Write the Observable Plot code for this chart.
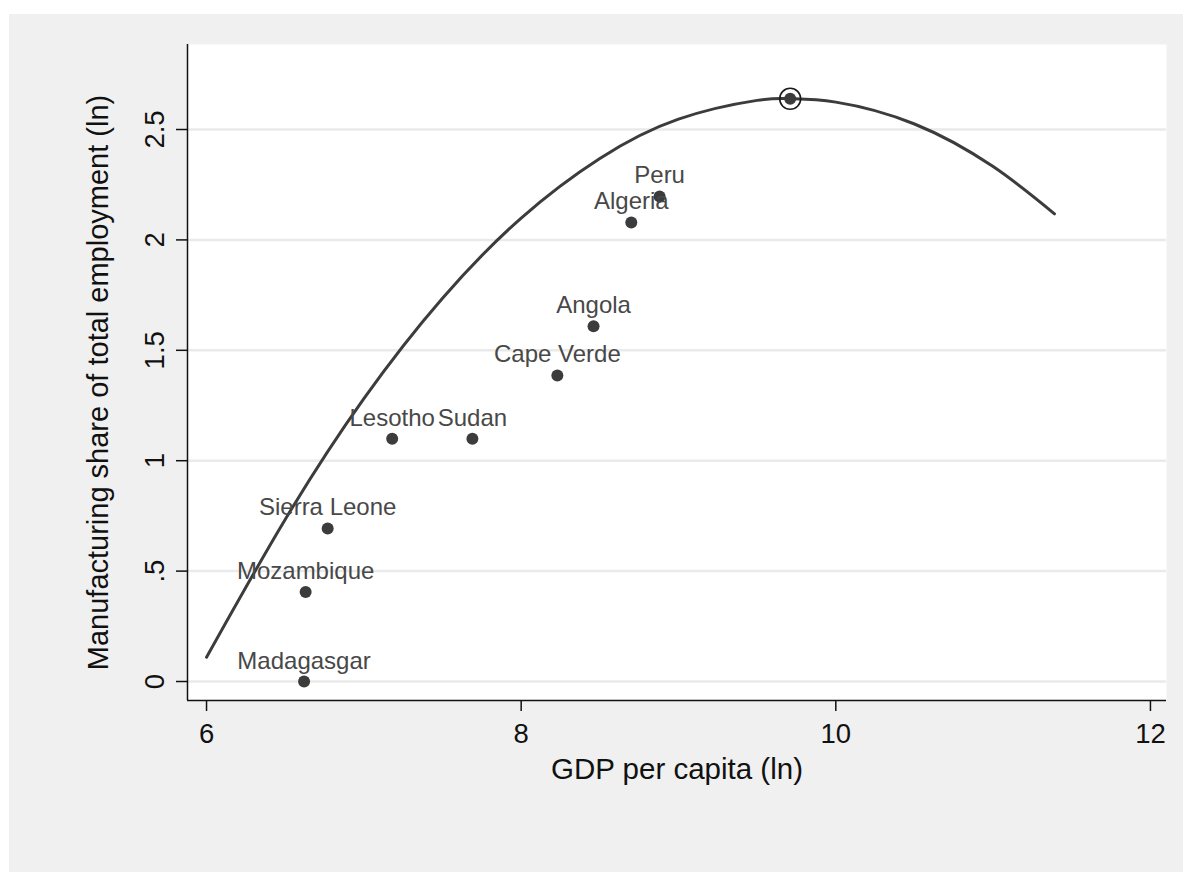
<!DOCTYPE html>
<html>
<head>
<meta charset="utf-8">
<script src="https://cdn.jsdelivr.net/npm/d3@7"></script>
<script src="https://cdn.jsdelivr.net/npm/@observablehq/plot@0.6"></script>
<style>
  html, body { margin: 0; padding: 0; background: #ffffff; }
  #wrap { position: absolute; left: 9px; top: 14px; width: 1174px; height: 858px; background: #f0f0f0; }
</style>
</head>
<body>
<div id="wrap"></div>
<script>
// ---- data ----
const countries = ["Madagasgar", "Mozambique", "Sierra Leone", "Lesotho", "Sudan", "Cape Verde", "Angola", "Algeria", "Peru"];
const gdpLn = [6.62, 6.63, 6.77, 7.18, 7.69, 8.23, 8.46, 8.70, 8.88];
const mfgLn = [0.0, 0.405, 0.693, 1.099, 1.099, 1.386, 1.609, 2.079, 2.197];

// circled turning point
const peakX = [9.71];
const peakY = [2.639];

// fitted quadratic curve at regular x steps
const curveX = [6.0, 6.5, 7.0, 7.5, 8.0, 8.5, 9.0, 9.5, 9.71, 10.0, 10.5, 11.0, 11.39];
const curveY = [0.11, 0.734, 1.281, 1.736, 2.099, 2.369, 2.547, 2.632, 2.64, 2.624, 2.525, 2.332, 2.118];

const xTicks = [6, 8, 10, 12];
const xTickLabels = ["6", "8", "10", "12"];
const yTicks = [0, 0.5, 1, 1.5, 2, 2.5];
const yTickLabels = ["0", ".5", "1", "1.5", "2", "2.5"];

const xTitle = "GDP per capita (ln)";
const yTitle = "Manufacturing share of total employment (ln)";

const xDomain = [5.879, 12.102];
const yDomain = [-0.086, 2.885];

// ---- tables ----
const points = countries.map((c, i) => ({country: c, x: gdpLn[i], y: mfgLn[i]}));
const peak = peakX.map((x, i) => ({x, y: peakY[i]}));
const curve = curveX.map((x, i) => ({x, y: curveY[i]}));

const font = "'Liberation Sans', Arial, Helvetica, sans-serif";
const ink = "#3c3c3c";

const chart = Plot.plot({
  width: 1174,
  height: 858,
  marginLeft: 178,
  marginRight: 17,
  marginTop: 30,
  marginBottom: 172,
  style: {background: "#f0f0f0", fontFamily: font, color: "#111"},
  x: {domain: xDomain},
  y: {domain: yDomain},
  marks: [
    Plot.frame({fill: "white", stroke: "none"}),
    Plot.gridY(yTicks, {stroke: "#eaeaea", strokeWidth: 2.5, strokeOpacity: 1}),
    Plot.line(curve, {x: "x", y: "y", curve: "natural", stroke: ink, strokeWidth: 3}),
    Plot.dot(points, {x: "x", y: "y", r: 6, fill: ink, stroke: "none"}),
    Plot.dot(peak, {x: "x", y: "y", r: 6, fill: ink, stroke: "none"}),
    Plot.dot(peak, {x: "x", y: "y", r: 10.5, fill: "none", stroke: "#1a1a1a", strokeWidth: 1.6}),
    Plot.text(points, {x: "x", y: "y", text: "country", lineAnchor: "bottom", dy: -13, fontSize: 24, fill: "#484848"}),
    Plot.ruleX([xDomain[0]], {stroke: "#111", strokeWidth: 1.5}),
    Plot.ruleY([yDomain[0]], {stroke: "#111", strokeWidth: 1.5}),
    Plot.axisX(xTicks, {
      label: null, tickSize: 11, tickPadding: 12, fontSize: 27.5,
      tickFormat: d => xTickLabels[xTicks.indexOf(d)], strokeWidth: 1.5
    }),
    Plot.axisY(yTicks, {
      label: null, tickSize: 11, tickPadding: 13, fontSize: 27.5, tickRotate: -90,
      tickFormat: d => yTickLabels[yTicks.indexOf(d)], strokeWidth: 1.5
    }),
    Plot.text([xTitle], {frameAnchor: "bottom", dy: 78, fontSize: 29.5, fill: "#111", text: d => d}),
    Plot.text([yTitle], {frameAnchor: "left", textAnchor: "middle", dx: -89, dy: 10, rotate: -90, fontSize: 29, fill: "#111", text: d => d})
  ]
});
document.getElementById("wrap").appendChild(chart);
</script>
</body>
</html>
